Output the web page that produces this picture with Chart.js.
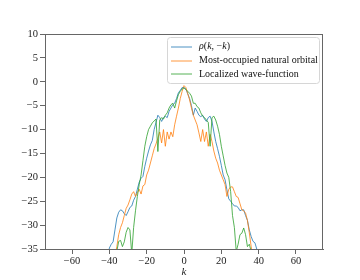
<!DOCTYPE html>
<html><head><meta charset="utf-8">
<script src="https://cdn.jsdelivr.net/npm/chart.js@4"></script>
<style>html,body{margin:0;padding:0;background:#fff;}canvas{display:block;}</style>
</head><body>
<canvas id="c" width="360" height="280"></canvas>
<script>
const kValues = [-42,-41,-40,-39,-38,-37,-36,-35,-34,-33,-32,-31,-30,-29,-28,-27,-26,-25,-24,-23,-22,-21,-20,-19,-18,-17,-16,-15,-14,-13,-12,-11,-10,-9,-8,-7,-6,-5,-4,-3,-2,-1,0,1,2,3,4,5,6,7,8,9,10,11,12,13,14,15,16,17,18,19,20,21,22,23,24,25,26,27,28,29,30,31,32,33,34,35,36,37,38,39,40,41,42];
const rhoValues = [-40,-37,-34.8,-34,-33.5,-31,-28.5,-27.3,-26.8,-27,-27.6,-28,-27.2,-26.3,-26,-24.8,-24,-22.5,-21,-20.2,-19.8,-17.7,-16,-14.5,-13.2,-12.3,-10,-8.5,-7,-7.5,-8.3,-7.5,-7.2,-7.5,-6.2,-5.5,-4.8,-4.5,-3.5,-2.3,-1.8,-1.2,-1.2,-1.5,-2.5,-3.5,-5,-7,-5.5,-6.2,-7,-7.3,-7,-7.8,-8.3,-7.5,-7.2,-8.3,-10.5,-12.5,-14,-15.6,-17.5,-19.5,-20.5,-22.6,-24.5,-25,-25.5,-26,-26,-26.3,-27,-26.8,-26.8,-28,-29,-31,-32.4,-33.4,-33.7,-35,-37,-40,-42];
const noValues = [-44,-42,-40,-39,-38,-36.5,-34.5,-32,-30.5,-29.5,-28,-26.5,-25.8,-24.7,-23.5,-23,-24,-23.2,-22.5,-23.5,-21.8,-21.5,-19.5,-18.5,-17,-15.5,-14,-13,-11.8,-10.5,-12.8,-10,-13.5,-10.5,-12,-10.5,-11.5,-9,-7.2,-5.5,-3.5,-2,-0.8,-1.2,-2.5,-3.8,-5.5,-7,-8,-9,-10.7,-12.5,-10,-12.5,-10.5,-13.5,-11,-12.5,-14.5,-16,-17,-18.5,-19.5,-20.5,-21.5,-24,-22.5,-22,-22,-23,-24,-24.2,-25.5,-26.8,-27,-27.5,-29,-31.6,-34.5,-37,-40,-42,-44,-46,-48];
const locValues = [-48,-46,-44,-42,-40,-37.5,-35.5,-33.4,-33.2,-34.5,-33.5,-31.5,-30.5,-31,-36,-30.5,-27,-24,-21.5,-19.5,-16.5,-13.5,-11.5,-10,-9.3,-8.6,-8.2,-7.8,-14.6,-8,-7.5,-7.8,-7,-6.5,-5.5,-4.8,-4.5,-5.5,-4,-2.7,-2,-1.5,-1.3,-1.6,-2,-2.4,-3,-4.5,-4.5,-5.2,-5.5,-6.5,-7.2,-7.5,-8,-8.5,-13.5,-7.5,-7.2,-8,-9.3,-11,-13.5,-15.5,-17.5,-19.1,-20,-23,-28,-30.5,-35.5,-34,-32,-31.7,-30.6,-32,-34.5,-34,-35.5,-38,-40,-42,-44,-46,-48];
const seriesLabels = ["rho", "Most-occupied natural orbital", "Localized wave-function"];
const seriesColors = ["#1f77b4", "#ff7f0e", "#2ca02c"];
const xTicks = [-60,-40,-20,0,20,40,60];
const yTicks = [-35,-30,-25,-20,-15,-10,-5,0,5,10];

const FONT = "'Liberation Serif', 'DejaVu Serif', serif";
const AX = '#666';
const fmt = v => String(v).replace('-', '\u2212');
const pts = arr => kValues.map((k, i) => ({x: k, y: arr[i]}));

const frame = {
  id: 'frame',
  afterDatasetsDraw(chart) {
    const {ctx, chartArea: a} = chart;
    ctx.save();
    ctx.strokeStyle = AX; ctx.lineWidth = 1;
    ctx.beginPath();
    ctx.moveTo(a.left, a.top + 0.5); ctx.lineTo(a.right, a.top + 0.5);
    ctx.moveTo(a.right - 0.5, a.top); ctx.lineTo(a.right - 0.5, a.bottom);
    ctx.stroke();
    // legend
    const bx = 167.5, by = 37.5, bw = 152, bh = 46;
    ctx.fillStyle = 'rgba(255,255,255,0.85)';
    ctx.strokeStyle = '#d6d6d6';
    ctx.beginPath();
    ctx.roundRect(bx, by, bw, bh, 3);
    ctx.fill(); ctx.stroke();
    const rows = [46.5, 60.5, 74];
    ctx.textBaseline = 'middle';
    rows.forEach((y, i) => {
      ctx.strokeStyle = seriesColors[i]; ctx.lineWidth = 0.8;
      ctx.beginPath(); ctx.moveTo(171, Math.round(y)); ctx.lineTo(192, Math.round(y)); ctx.stroke();
      ctx.fillStyle = '#111';
      if (i === 0) {
        const parts = [['\u03c1', true], ['(', false], ['k', true], [', ', false], ['\u2212', false], ['k', true], [')', false]];
        let x = 199;
        parts.forEach(([t, it]) => {
          ctx.font = (it ? 'italic ' : '') + '10px ' + FONT;
          ctx.fillText(t, x, y);
          x += ctx.measureText(t).width;
        });
      } else {
        ctx.font = '10px ' + FONT;
        ctx.fillText(seriesLabels[i], 199, y);
      }
    });
    ctx.restore();
  }
};

new Chart(document.getElementById('c'), {
  type: 'line',
  data: {
    datasets: [
      {label: seriesLabels[0], data: pts(rhoValues), borderColor: seriesColors[0], order: 3},
      {label: seriesLabels[1], data: pts(noValues), borderColor: seriesColors[1], order: 2},
      {label: seriesLabels[2], data: pts(locValues), borderColor: seriesColors[2], order: 1}
    ]
  },
  options: {
    responsive: false,
    animation: false,
    devicePixelRatio: 1,
    layout: {padding: {left: 0, top: 34, right: 37, bottom: 0}},
    elements: {line: {borderWidth: 0.8, tension: 0, fill: false}, point: {radius: 0}},
    plugins: {legend: {display: false}, tooltip: {enabled: false}},
    scales: {
      x: {
        type: 'linear', min: -74.5, max: 74.5,
        afterBuildTicks: s => { s.ticks = xTicks.map(v => ({value: v})); },
        afterFit: s => { s.height = 31; },
        grid: {drawOnChartArea: false, drawTicks: true, tickLength: 5, color: AX},
        border: {color: AX, width: 1},
        ticks: {padding: 1, color: '#222', font: {family: FONT, size: 10.5}, callback: v => fmt(v), maxRotation: 0},
        title: {display: true, text: 'k', color: '#222', padding: {top: 0, bottom: 1}, font: {family: FONT, size: 11, style: 'italic'}}
      },
      y: {
        min: -35, max: 10,
        afterBuildTicks: s => { s.ticks = yTicks.map(v => ({value: v})); },
        afterFit: s => { s.width = 45; },
        grid: {drawOnChartArea: false, drawTicks: true, tickLength: 5, color: AX},
        border: {color: AX, width: 1},
        ticks: {padding: 2, color: '#222', font: {family: FONT, size: 10.5}, callback: v => fmt(v)}
      }
    }
  },
  plugins: [frame]
});
</script>
</body></html>
